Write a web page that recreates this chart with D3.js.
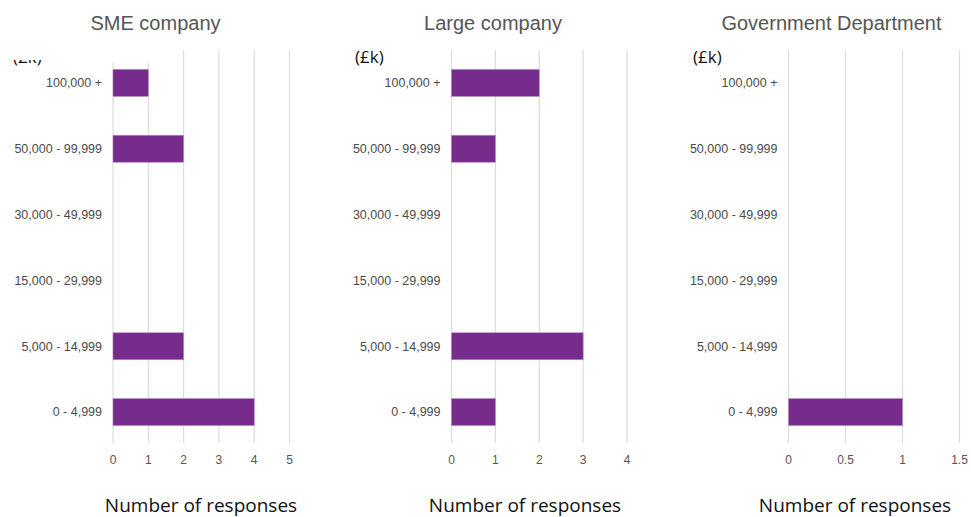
<!DOCTYPE html>
<html><head><meta charset="utf-8">
<script src="https://cdn.jsdelivr.net/npm/d3@7"></script>
<style>body{margin:0;background:#fff}</style>
</head><body>
<script>
const categories = ["100,000 +","50,000 - 99,999","30,000 - 49,999","15,000 - 29,999","5,000 - 14,999","0 - 4,999"];
const panelTitles = ["SME company","Large company","Government Department"];
const smeValues = [1,2,0,0,2,4];
const largeValues = [2,1,0,0,3,1];
const govValues = [0,0,0,0,0,1];
const smeTicks = [0,1,2,3,4,5];
const largeTicks = [0,1,2,3,4];
const govTicks = [0,0.5,1,1.5];
const unitLabel = "(£k)";
const axisTitle = "Number of responses";

const W = 971, H = 517;
const svg = d3.select("body").append("svg").attr("width", W).attr("height", H);

const panels = [
  {title: panelTitles[0], values: smeValues, ticks: smeTicks, x0: 113, x1: 289.5, max: 5, titleX: 155.5, axisX: 201, unitX: 13},
  {title: panelTitles[1], values: largeValues, ticks: largeTicks, x0: 451.5, x1: 627, max: 4, titleX: 493, axisX: 525, unitX: 355},
  {title: panelTitles[2], values: govValues, ticks: govTicks, x0: 788.5, x1: 959.5, max: 1.5, titleX: 831.5, axisX: 855, unitX: 693}
];

const y = d3.scaleBand().domain(categories).range([50, 445]).paddingInner(0.59).paddingOuter(0.295);

panels.forEach((p, i) => {
  const g = svg.append("g");
  const x = d3.scaleLinear().domain([0, p.max]).range([p.x0, p.x1]);
  g.selectAll("line.grid").data(p.ticks).join("line")
    .attr("x1", d => x(d)).attr("x2", d => x(d))
    .attr("y1", 50).attr("y2", 443)
    .attr("stroke", "#dcdcdc").attr("stroke-width", 1.2);
  g.selectAll("rect.bar").data(categories.map((c, j) => ({c, v: p.values[j]})).filter(d => d.v > 0)).join("rect")
    .attr("x", x(0)).attr("y", d => y(d.c))
    .attr("width", d => x(d.v) - x(0)).attr("height", y.bandwidth())
    .attr("fill", "#772b8c").attr("stroke", "#b48cc0").attr("stroke-width", 0.6);
  g.selectAll("text.cat").data(categories).join("text")
    .attr("x", p.x0 - 11).attr("y", d => y(d) + y.bandwidth()/2)
    .attr("dy", "0.35em").attr("text-anchor", "end")
    .attr("font-family", "'Liberation Sans', Arial, sans-serif").attr("font-size", 12.5)
    .attr("fill", "#4a4a4a").text(d => d);
  g.selectAll("text.tick").data(p.ticks).join("text")
    .attr("x", d => x(d)).attr("y", 460).attr("dy", "0.35em")
    .attr("text-anchor", "middle")
    .attr("font-family", "'Liberation Sans', Arial, sans-serif").attr("font-size", 12)
    .attr("fill", "#555").text(d => d);
  g.append("text").attr("x", p.titleX).attr("y", 23).attr("dy", "0.35em")
    .attr("text-anchor", "middle")
    .attr("font-family", "'Liberation Sans', Arial, sans-serif").attr("font-size", 20)
    .attr("fill", "#555").text(p.title);
  g.append("text").attr("x", p.axisX).attr("y", 505).attr("dy", "0.35em")
    .attr("text-anchor", "middle")
    .attr("font-family", "'Open Sans', 'Noto Sans', sans-serif").attr("font-size", 19)
    .attr("fill", "#111").text(axisTitle);
  g.append("text").attr("x", p.unitX).attr("y", 57).attr("dy", "0.35em")
    .attr("font-family", "'Open Sans', 'Noto Sans', sans-serif").attr("font-size", 17)
    .attr("fill", "#111").text(unitLabel);
});
// white patch clipping top-left of the first panel
svg.append("rect").attr("x", 0).attr("y", 35).attr("width", 150).attr("height", 25).attr("fill", "#fff");
svg.append("rect").attr("x", 105).attr("y", 35).attr("width", 45).attr("height", 28).attr("fill", "#fff");
</script>
</body></html>
